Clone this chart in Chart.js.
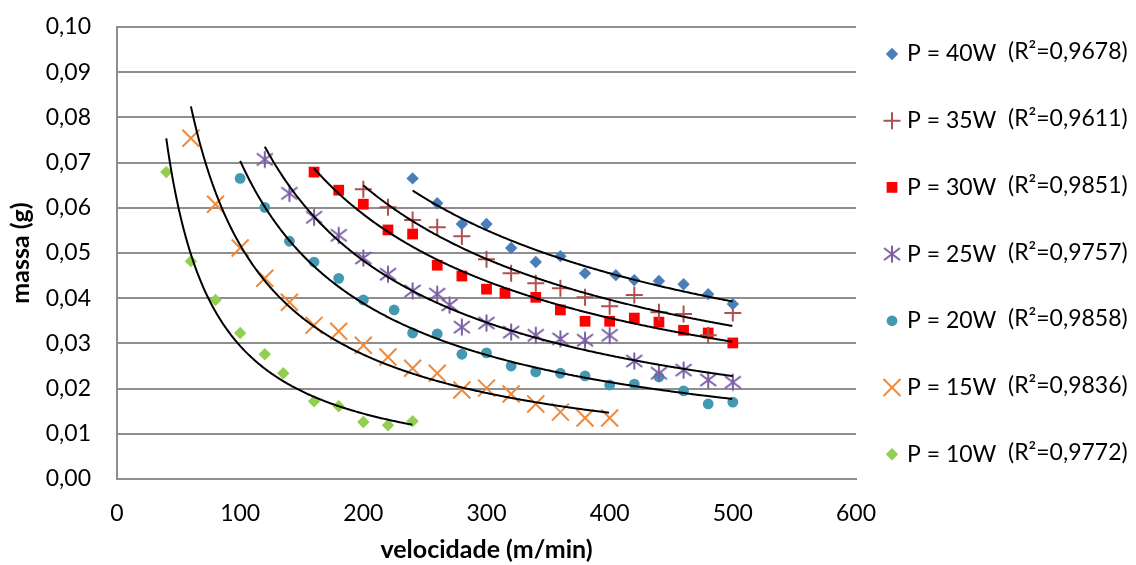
<!DOCTYPE html>
<html>
<head>
<meta charset="utf-8">
<script src="https://cdn.jsdelivr.net/npm/chart.js@4.4.1/dist/chart.umd.min.js"></script>
<style>
  html, body { margin: 0; padding: 0; background: #ffffff; }
  #wrap { width: 1136px; height: 565px; }
</style>
</head>
<body>
<div id="wrap"><canvas id="chart" width="1136" height="565"></canvas></div>
<script>
// Mass (g) versus speed (m/min) for each laser power level
const vel40   = [240, 260, 280, 300, 320, 340, 360, 380, 405, 420, 440, 460, 480, 500];
const massa40 = [0.0665, 0.0610, 0.0564, 0.0564, 0.0511, 0.0480, 0.0493, 0.0455, 0.0451, 0.0440, 0.0438, 0.0431, 0.0409, 0.0387];

const vel35   = [200, 220, 240, 260, 280, 300, 320, 340, 360, 380, 400, 420, 440, 460, 480, 500];
const massa35 = [0.0641, 0.0601, 0.0573, 0.0557, 0.0537, 0.0486, 0.0455, 0.0433, 0.0422, 0.0402, 0.0382, 0.0407, 0.0369, 0.0365, 0.0318, 0.0367];

const vel30   = [160, 180, 200, 220, 240, 260, 280, 300, 315, 340, 360, 380, 400, 420, 440, 460, 480, 500];
const massa30 = [0.0679, 0.0639, 0.0608, 0.0551, 0.0542, 0.0473, 0.0449, 0.0420, 0.0411, 0.0402, 0.0374, 0.0349, 0.0349, 0.0356, 0.0347, 0.0329, 0.0323, 0.0301];

const vel25   = [120, 140, 160, 180, 200, 220, 240, 260, 270, 280, 300, 320, 340, 360, 380, 400, 420, 440, 460, 480, 500];
const massa25 = [0.0707, 0.0632, 0.0579, 0.0539, 0.0489, 0.0453, 0.0416, 0.0409, 0.0385, 0.0336, 0.0345, 0.0325, 0.0318, 0.0310, 0.0307, 0.0318, 0.0261, 0.0234, 0.0241, 0.0219, 0.0214];

const vel20   = [100, 120, 140, 160, 180, 200, 225, 240, 260, 280, 300, 320, 340, 360, 380, 400, 420, 440, 460, 480, 500];
const massa20 = [0.0665, 0.0601, 0.0526, 0.0480, 0.0444, 0.0396, 0.0374, 0.0323, 0.0321, 0.0276, 0.0279, 0.0250, 0.0237, 0.0234, 0.0228, 0.0208, 0.0210, 0.0226, 0.0195, 0.0166, 0.0170];

const vel15   = [60, 80, 100, 120, 140, 160, 180, 200, 220, 240, 260, 280, 300, 320, 340, 360, 380, 400];
const massa15 = [0.0754, 0.0608, 0.0511, 0.0444, 0.0391, 0.0340, 0.0327, 0.0296, 0.0270, 0.0245, 0.0234, 0.0197, 0.0201, 0.0188, 0.0166, 0.0148, 0.0135, 0.0135];

const vel10   = [40, 60, 80, 100, 120, 135, 160, 180, 200, 220, 240];
const massa10 = [0.0679, 0.0482, 0.0396, 0.0323, 0.0276, 0.0234, 0.0172, 0.0161, 0.0126, 0.0119, 0.0128];

const seriesNames = ['P = 40W', 'P = 35W', 'P = 30W', 'P = 25W', 'P = 20W', 'P = 15W', 'P = 10W'];
const r2Labels    = ['(R\u00B2=0,9678)', '(R\u00B2=0,9611)', '(R\u00B2=0,9851)', '(R\u00B2=0,9757)', '(R\u00B2=0,9858)', '(R\u00B2=0,9836)', '(R\u00B2=0,9772)'];

const xTicks = [0, 100, 200, 300, 400, 500, 600];
const yTicks = [0, 0.01, 0.02, 0.03, 0.04, 0.05, 0.06, 0.07, 0.08, 0.09, 0.10];

const FONT = 'Lato, "Noto Sans", sans-serif';

// six-armed asterisk marker (X plus a vertical stroke)
function makeAsterisk(color) {
  const c = document.createElement('canvas');
  c.width = 20; c.height = 20;
  const g = c.getContext('2d');
  g.strokeStyle = color;
  g.lineWidth = 2;
  g.beginPath();
  g.moveTo(10, 1.5); g.lineTo(10, 18.5);
  g.moveTo(2, 4); g.lineTo(18, 16);
  g.moveTo(18, 4); g.lineTo(2, 16);
  g.stroke();
  return c;
}

const styles = [
  { color: '#4A7EBB', pointStyle: 'rectRot', radius: 6.2, borderWidth: 0 },
  { color: '#B0504E', pointStyle: 'cross',   radius: 8.5, borderWidth: 2 },
  { color: '#FF0000', pointStyle: 'rect',    radius: 7.6, borderWidth: 0 },
  { color: '#7B5EA4', pointStyle: makeAsterisk('#7B5EA4'), radius: 9, borderWidth: 0 },
  { color: '#4499B2', pointStyle: 'circle',  radius: 5.4, borderWidth: 0 },
  { color: '#EE8A3C', pointStyle: 'crossRot', radius: 12, borderWidth: 2 },
  { color: '#92CF50', pointStyle: 'rectRot', radius: 6.2, borderWidth: 0 }
];

const velSets   = [vel40, vel35, vel30, vel25, vel20, vel15, vel10];
const massaSets = [massa40, massa35, massa30, massa25, massa20, massa15, massa10];

const datasets = velSets.map((xs, i) => ({
  label: seriesNames[i],
  data: xs.map((x, j) => ({ x: x, y: massaSets[i][j] })),
  pointStyle: styles[i].pointStyle,
  pointRadius: styles[i].radius,
  pointHoverRadius: styles[i].radius,
  pointBackgroundColor: styles[i].color,
  pointBorderColor: styles[i].color,
  pointBorderWidth: styles[i].borderWidth,
  showLine: false
}));

// least-squares power trendline y = a * x^b (fit in log-log space)
function powerFit(xs, ys) {
  const n = xs.length;
  let sx = 0, sy = 0, sxx = 0, sxy = 0;
  for (let i = 0; i < n; i++) {
    const lx = Math.log(xs[i]), ly = Math.log(ys[i]);
    sx += lx; sy += ly; sxx += lx * lx; sxy += lx * ly;
  }
  const b = (n * sxy - sx * sy) / (n * sxx - sx * sx);
  const a = Math.exp((sy - b * sx) / n);
  return { a, b };
}

const trendlinePlugin = {
  id: 'trendlines',
  afterDatasetsDraw(chart) {
    const { ctx, scales: { x, y } } = chart;
    ctx.save();
    ctx.beginPath();
    ctx.rect(chart.chartArea.left, chart.chartArea.top, chart.chartArea.width, chart.chartArea.height);
    ctx.clip();
    ctx.strokeStyle = '#000000';
    ctx.lineWidth = 2;
    velSets.forEach((xs, i) => {
      const { a, b } = powerFit(xs, massaSets[i]);
      const x0 = Math.min(...xs), x1 = Math.max(...xs);
      const p0 = x.getPixelForValue(x0), p1 = x.getPixelForValue(x1);
      ctx.beginPath();
      for (let px = p0; px <= p1 + 0.01; px += 1) {
        const v = x.getValueForPixel(Math.min(px, p1));
        const py = y.getPixelForValue(a * Math.pow(v, b));
        if (px === p0) ctx.moveTo(px, py); else ctx.lineTo(px, py);
      }
      ctx.stroke();
    });
    ctx.restore();
  }
};

const legendPlugin = {
  id: 'sideLegend',
  afterDraw(chart) {
    const ctx = chart.ctx;
    const markerX = 892, textX = 907, r2X = 1008, top = 54, step = 66.7;
    ctx.save();
    ctx.font = '23px ' + FONT;
    ctx.fillStyle = '#000000';
    ctx.textBaseline = 'middle';
    ctx.textAlign = 'left';
    seriesNames.forEach((name, i) => {
      const yy = top + i * step;
      const s = styles[i];
      ctx.save();
      ctx.fillStyle = s.color;
      ctx.strokeStyle = s.color;
      ctx.lineWidth = s.borderWidth;
      Chart.helpers.drawPoint(ctx, { pointStyle: s.pointStyle, radius: s.radius, rotation: 0, borderWidth: s.borderWidth }, markerX, yy);
      ctx.restore();
      ctx.fillText(name, textX, yy);
      ctx.fillText(r2Labels[i], r2X, yy - 2);
    });
    ctx.restore();
  }
};

Chart.defaults.color = '#000000';
Chart.defaults.font.family = FONT;

new Chart(document.getElementById('chart'), {
  type: 'scatter',
  data: { datasets },
  plugins: [trendlinePlugin, legendPlugin],
  options: {
    responsive: false,
    animation: false,
    devicePixelRatio: 1,
    layout: { padding: { top: 27, right: 280, bottom: 0, left: 0 } },
    plugins: { legend: { display: false }, tooltip: { enabled: false } },
    scales: {
      x: {
        type: 'linear',
        min: 0, max: 600,
        afterBuildTicks(scale) { scale.ticks = xTicks.map(v => ({ value: v })); },
        afterFit(scale) { scale.height = 86; },
        ticks: { font: { size: 23 }, padding: 21, maxRotation: 0, callback: v => String(v) },
        grid: { display: false, drawTicks: false },
        border: { display: true, color: '#8E8E8E', width: 2 },
        title: { display: true, text: 'velocidade (m/min)', font: { size: 25, weight: 'bold' }, padding: { top: 0, bottom: 0 } }
      },
      y: {
        type: 'linear',
        min: 0, max: 0.10,
        afterBuildTicks(scale) { scale.ticks = yTicks.map(v => ({ value: v })); },
        afterFit(scale) { scale.width = 117; scale.paddingTop = 0; scale.paddingBottom = 0; },
        ticks: { font: { size: 23 }, padding: 26, callback: v => v.toFixed(2).replace('.', ',') },
        grid: { color: '#8E8E8E', lineWidth: 2, drawTicks: false },
        border: { display: true, color: '#8E8E8E', width: 2 },
        title: { display: true, text: 'massa (g)', font: { size: 25, weight: 'bold' }, padding: { top: 6, bottom: 0 } }
      }
    }
  }
});
</script>
</body>
</html>
